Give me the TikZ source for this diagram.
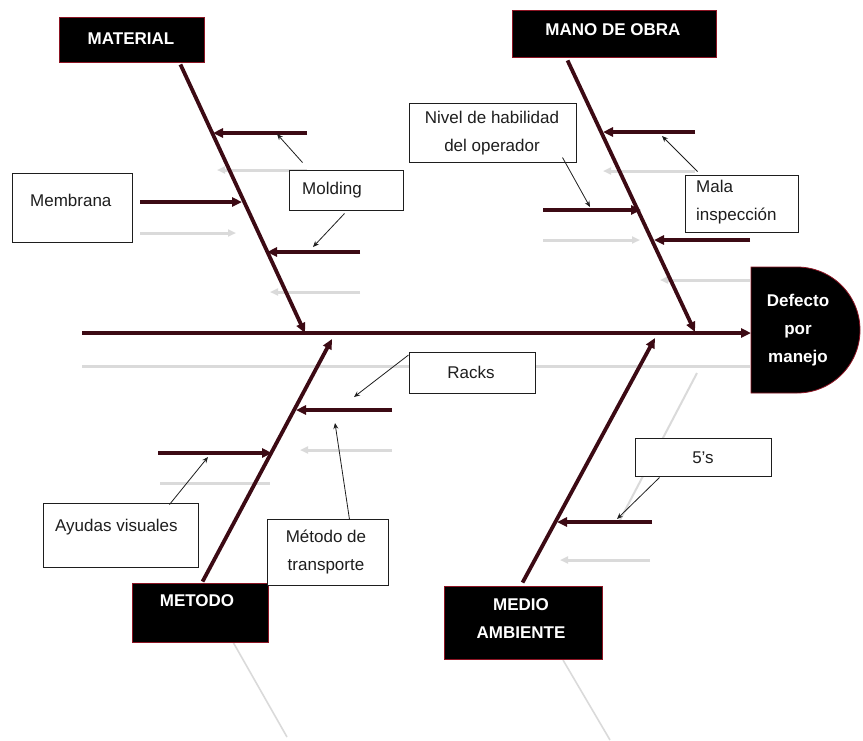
\documentclass[tikz,border=0pt]{standalone}
\usepackage{fontspec}
\setmainfont{Liberation Sans}
\usetikzlibrary{arrows.meta,calc}
\definecolor{bone}{RGB}{60,10,20}
\definecolor{rim}{RGB}{140,20,35}
\definecolor{ink}{RGB}{30,30,30}
\definecolor{ghost}{RGB}{218,218,218}

\begin{document}
\begin{tikzpicture}[x=1pt,y=-1pt,
  bonestyle/.style={draw=bone, line width=3.8pt, -{Triangle[length=10pt,width=9pt]}},
  ghostline/.style={draw=ghost, line width=3pt},
  ghostarrow/.style={draw=ghost, line width=3pt, -{Triangle[length=8pt,width=7pt]}},
  callout/.style={draw=ink, line width=0.8pt, -{Stealth[length=6pt,width=5pt]}},
  catbox/.style={fill=black, draw=rim, line width=0.9pt, inner sep=0pt},
  notebox/.style={draw=ink, fill=white, line width=1pt, inner sep=0pt},
  cattext/.style={text=white, font=\bfseries\fontsize{17}{28}\selectfont, align=center, inner sep=0pt},
  notetext/.style={text=ink, font=\fontsize{17}{28}\selectfont, inner sep=0pt},
]
\useasboundingbox (0,0) rectangle (863,740);

% ---------- faint reflections under the skeleton ----------
\draw[ghostline] (82,366) -- (750,366);
\draw[ghostarrow] (307,170) -- (217,170);
\draw[ghostarrow] (140,233) -- (236,233);
\draw[ghostarrow] (360,292) -- (270,292);
\draw[ghostarrow] (695,171) -- (603,171);
\draw[ghostarrow] (543,240) -- (640,240);
\draw[ghostarrow] (750,280) -- (660,280);
\draw[ghostarrow] (392,450) -- (300,450);
\draw[ghostline]  (160,483) -- (270,483);
\draw[ghostline, line width=2pt] (697,373) -- (620,520);
\draw[ghostarrow] (650,560) -- (560,560);
\draw[ghostline, line width=1.6pt] (233,642) -- (287,737);
\draw[ghostline, line width=1.6pt] (563,660) -- (610,740);

% ---------- category boxes ----------
\node[catbox, minimum width=145pt, minimum height=45pt] (matBox) at (131.5,39.5) {};
\node[cattext, anchor=base] (matT) at (131,44) {MATERIAL};
\node[catbox, minimum width=204pt, minimum height=47pt] (manBox) at (614,33.5) {};
\node[cattext, anchor=base] (manT) at (613,35) {MANO DE OBRA};
\node[catbox, minimum width=136pt, minimum height=59pt] (metBox) at (200,612.5) {};
\node[cattext, anchor=base] (metT) at (197,606) {METODO};
\node[catbox, minimum width=158pt, minimum height=73pt] (medBox) at (523,622.5) {};
\node[cattext] (medT) at (521,618.5) {MEDIO\\AMBIENTE};

% ---------- effect head (flat back, rounded front) ----------
\filldraw[fill=black, draw=rim, line width=0.8pt]
  (751,267) -- (797,267) arc[start angle=-90, end angle=90, radius=63] -- (751,393) -- cycle;
\coordinate (headW) at (751,333);
\node[cattext] (headT) at (798,330) {Defecto\\por\\manejo};

% ---------- main spine and category bones ----------
\coordinate (spineTail) at (82,333);
\draw[bonestyle] (spineTail) -- (headW);

\coordinate (matRoot) at ($(matBox.south east)+(-24,2)$);
\coordinate (matTip) at (305,333);
\draw[bonestyle] (matRoot) -- (matTip);

\coordinate (manRoot) at ($(manBox.south west)+(56,3)$);
\coordinate (manTip) at (695,332);
\draw[bonestyle] (manRoot) -- (manTip);

\coordinate (metRoot) at ($(metBox.north west)+(71,-1)$);
\coordinate (metTip) at (332,339);
\draw[bonestyle] (metRoot) -- (metTip);

\coordinate (medRoot) at ($(medBox.north west)+(79,-3)$);
\coordinate (medTip) at (655,338);
\draw[bonestyle] (medRoot) -- (medTip);

% ---------- cause arrows ----------
\coordinate (m1s) at (307,133); \coordinate (m1e) at (213,133);
\coordinate (m2s) at (140,202); \coordinate (m2e) at (242,202);
\coordinate (m3s) at (360,252); \coordinate (m3e) at (267,252);
\draw[bonestyle] (m1s) -- (m1e);
\draw[bonestyle] (m2s) -- (m2e);
\draw[bonestyle] (m3s) -- (m3e);

\coordinate (o1s) at (695,132); \coordinate (o1e) at (603,132);
\coordinate (o2s) at (543,210); \coordinate (o2e) at (641,210);
\coordinate (o3s) at (750,240); \coordinate (o3e) at (654,240);
\draw[bonestyle] (o1s) -- (o1e);
\draw[bonestyle] (o2s) -- (o2e);
\draw[bonestyle] (o3s) -- (o3e);

\coordinate (t1s) at (392,410); \coordinate (t1e) at (296,410);
\coordinate (t2s) at (158,453); \coordinate (t2e) at (272,453);
\draw[bonestyle] (t1s) -- (t1e);
\draw[bonestyle] (t2s) -- (t2e);

\coordinate (a1s) at (652,522); \coordinate (a1e) at (557,522);
\draw[bonestyle] (a1s) -- (a1e);

% ---------- note boxes ----------
\node[notebox, minimum width=120pt, minimum height=69pt] (memBox) at (72,207.5) {};
\node[notetext, anchor=base west] (memT) at (30,206) {Membrana};
\node[notebox, minimum width=114pt, minimum height=40pt] (molBox) at (346,190) {};
\node[notetext, anchor=base west] (molT) at (302,194) {Molding};
\node[notebox, minimum width=167pt, minimum height=59pt] (nivBox) at (492.5,132.5) {};
\node[notetext, align=center] (nivT) at (492,133.5) {Nivel de habilidad\\del operador};
\node[notebox, minimum width=113pt, minimum height=57pt] (malBox) at (741.5,203.5) {};
\node[notetext, align=left, anchor=west] (malT) at (696,202.5) {Mala\\inspección};
\node[notebox, minimum width=126pt, minimum height=41pt] (racBox) at (472,372.5) {};
\node[notetext, anchor=base] (racT) at (471,378) {Racks};
\node[notebox, minimum width=155pt, minimum height=64pt] (ayuBox) at (120.5,535) {};
\node[notetext, anchor=base west] (ayuT) at (55,531) {Ayudas visuales};
\node[notebox, minimum width=121pt, minimum height=66pt] (traBox) at (327.5,552) {};
\node[notetext, align=center] (traT) at (326,552) {Método de\\transporte};
\node[notebox, minimum width=136pt, minimum height=38pt] (cinBox) at (703,457) {};
\node[notetext, anchor=base] (cinT) at (703,463) {5’s};

% ---------- callout pointers ----------
\coordinate (molUp) at ($(molBox.north west)+(14,-7)$);
\coordinate (molDn) at ($(molBox.south west)+(56,3)$);
\draw[callout] (molUp) -- (277,134);
\draw[callout] (molDn) -- (313,247);
\coordinate (nivDn) at ($(nivBox.south west)+(154,-5)$);
\draw[callout] (nivDn) -- (590,207);
\coordinate (malUp) at ($(malBox.north west)+(13,-3)$);
\draw[callout] (malUp) -- (662,136);
\draw[callout] (racBox.west |- 0,355) -- (354,397);
\coordinate (ayuUp) at ($(ayuBox.north west)+(127,2)$);
\draw[callout] (ayuUp) -- (208,457);
\coordinate (traUp) at ($(traBox.north west)+(83,1)$);
\draw[callout] (traUp) -- (335,423);
\coordinate (cinDn) at ($(cinBox.south west)+(25,1)$);
\draw[callout] (cinDn) -- (617,519);
\end{tikzpicture}
\end{document}
